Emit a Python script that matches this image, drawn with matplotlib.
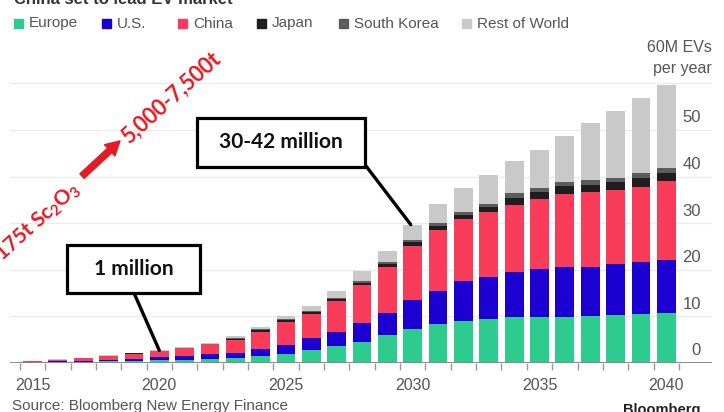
import numpy as np
import matplotlib
matplotlib.use("Agg")
import matplotlib.pyplot as plt
from matplotlib.patches import Rectangle

plt.rcParams['mathtext.fontset'] = 'custom'
plt.rcParams['mathtext.rm'] = 'Lato:bold'
plt.rcParams['mathtext.it'] = 'Lato:bold'
plt.rcParams['mathtext.bf'] = 'Lato:bold'

# data (million EVs sold per year)
years = np.arange(2015, 2041)
europe = [0.10, 0.20, 0.28, 0.38, 0.50, 0.60, 0.70, 0.90, 1.0, 1.5, 1.9, 2.8, 3.6,
          4.6, 6.0, 7.3, 8.4, 9.0, 9.4, 9.8, 9.8, 9.9, 10.1, 10.3, 10.5, 10.8]
us = [0.12, 0.15, 0.20, 0.30, 0.45, 0.60, 0.80, 1.00, 1.1, 1.5, 2.0, 2.5, 3.1,
      3.9, 4.8, 6.2, 7.1, 8.5, 9.1, 9.7, 10.3, 10.6, 10.6, 10.9, 11.2, 11.3]
china = [0.20, 0.35, 0.55, 0.80, 1.05, 1.30, 1.65, 2.10, 2.9, 3.7, 5.0, 5.2, 6.5,
         8.2, 9.9, 11.6, 13.0, 13.3, 13.8, 14.5, 15.2, 15.8, 15.9, 15.9, 16.1, 16.9]
japan = [0.03, 0.03, 0.04, 0.05, 0.07, 0.07, 0.08, 0.09, 0.25, 0.32, 0.38, 0.45, 0.45,
         0.5, 0.6, 0.8, 0.95, 1.05, 1.1, 1.45, 1.4, 1.6, 1.65, 1.65, 1.8, 1.7]
korea = [0.02, 0.02, 0.03, 0.03, 0.04, 0.05, 0.05, 0.06, 0.15, 0.18, 0.22, 0.25, 0.25,
         0.3, 0.4, 0.5, 0.55, 0.65, 0.7, 0.95, 0.9, 1.0, 1.05, 1.05, 1.1, 1.1]
rest = [0.03, 0.05, 0.05, 0.06, 0.09, 0.10, 0.12, 0.15, 0.4, 0.5, 0.5, 1.0, 1.6,
        2.2, 2.4, 3.3, 4.1, 5.0, 6.2, 7.0, 8.2, 9.9, 12.3, 14.3, 16.2, 17.9]

series = [("Europe", europe, "#2ecb8e"), ("U.S.", us, "#1c00d2"),
          ("China", china, "#f83c5a"), ("Japan", japan, "#1e1e1e"),
          ("South Korea", korea, "#5c5c5c"), ("Rest of World", rest, "#c9c9c9")]

W, H = 724, 412


def fx(x):
    return x / W


def fy(y):
    return 1 - y / H


fig = plt.figure(figsize=(7.24, 4.12), dpi=100)

# axes mapped to the pixel layout of the reference
x0, x1, ybase, ytop = 10, 712, 363, 40
px_year, px_unit = 25.35, 4.66
ax = fig.add_axes([fx(x0), fy(ybase), (x1 - x0) / W, (ybase - ytop) / H])
ax.set_xlim(2015 + (x0 - 32.5) / px_year, 2015 + (x1 - 32.5) / px_year)
ax.set_ylim(0, (ybase - ytop) / px_unit)

for v in range(10, 70, 10):
    ax.axhline(v, color="#ebebeb", lw=1, zorder=0)
ax.axhline(0, color="#8a8a8a", lw=1.4, zorder=3)

bottom = np.zeros(len(years))
for name, vals, col in series:
    ax.bar(years, vals, bottom=bottom, width=0.74, color=col, zorder=2)
    bottom += np.array(vals)

for s in ax.spines.values():
    s.set_visible(False)
ax.set_yticks([])
ax.set_xticks(np.arange(2015, 2041, 5))
ax.set_xticks(np.arange(2014.5, 2041, 1), minor=True)
ax.tick_params(axis='x', which='major', length=0, pad=11, labelsize=11.5,
               labelcolor="#555555")
ax.tick_params(axis='x', which='minor', length=5, width=1, color="#9a9a9a")
for lab in ax.get_xticklabels():
    lab.set_family("Liberation Sans")

# right-side value labels above gridlines
for v in range(0, 60, 10):
    ax.text(2015 + (701 - 32.5) / px_year, v + 2.6, str(v), ha='right', va='center',
            fontsize=12, color="#555555", family="Liberation Sans")
fig.text(fx(712), fy(48), "60M EVs", ha='right', va='center', fontsize=11.5,
         color="#555555", family="Liberation Sans")
fig.text(fx(712), fy(69), "per year", ha='right', va='center', fontsize=11.5,
         color="#555555", family="Liberation Sans")

# clipped title and legend
fig.text(fx(14), fy(3.5), "China set to lead EV market", ha='left', va='baseline',
         fontsize=12, fontweight='bold', color="#333333", family="Liberation Sans")
leg_x = [14, 102, 178, 257, 339, 462]
for (name, vals, col), lx in zip(series, leg_x):
    fig.patches.append(Rectangle((fx(lx), fy(28)), 9 / W, 9 / H, color=col,
                                 transform=fig.transFigure, figure=fig))
    fig.text(fx(lx + 15), fy(23.5), name, ha='left', va='center', fontsize=11,
             color="#555555", family="Liberation Sans")

# footer
fig.text(fx(12), fy(406), "Source: Bloomberg New Energy Finance", ha='left', va='center',
         fontsize=11, color="#555555", family="Liberation Sans")
fig.text(fx(701), fy(410), "Bloomberg", ha='right', va='center', fontsize=10.5,
         fontweight='bold', color="#222222", family="Liberation Sans")

# callout boxes
def callout(x, y, w, h, label):
    fig.patches.append(Rectangle((fx(x), fy(y + h)), w / W, h / H, facecolor="white",
                                 edgecolor="black", lw=2.3, transform=fig.transFigure,
                                 figure=fig, zorder=5))
    fig.text(fx(x + w / 2), fy(y + h / 2), label, ha='center', va='center', fontsize=15,
             fontweight='bold', color="#111111", family="Lato", zorder=6)


callout(197, 118, 168, 49, "30-42 million")
callout(67, 245, 133, 48, "1 million")
tot = np.array(europe) + us + china + japan + korea + rest
ax.annotate("", xy=(2029.92, tot[15]), xycoords='data',
            xytext=(366, H - 166), textcoords='figure pixels',
            arrowprops=dict(arrowstyle='-', lw=2.4, color='black', shrinkA=0, shrinkB=0))
ax.annotate("", xy=(2020, tot[5]), xycoords='data',
            xytext=(134, H - 293), textcoords='figure pixels',
            arrowprops=dict(arrowstyle='-', lw=2.4, color='black', shrinkA=0, shrinkB=0))

# red scandium note
red = "#e31b23"
fig.text(fx(38), fy(222), r"175t Sc$_2$O$_3$", ha='center', va='center', rotation=42,
         rotation_mode='anchor', fontsize=15, fontweight='bold', color=red, family="Lato")
fig.text(fx(171), fy(98), "5,000-7,500t", ha='center', va='center', rotation=42,
         rotation_mode='anchor', fontsize=15.5, fontweight='bold', color=red, family="Lato")
fig.patches.append(matplotlib.patches.FancyArrowPatch(
    (80, H - 178), (122, H - 139), transform=None, arrowstyle='simple,head_width=1.1,head_length=1.0,tail_width=0.45',
    mutation_scale=10, color=red, figure=fig))

fig.savefig("out.png", dpi=100)
